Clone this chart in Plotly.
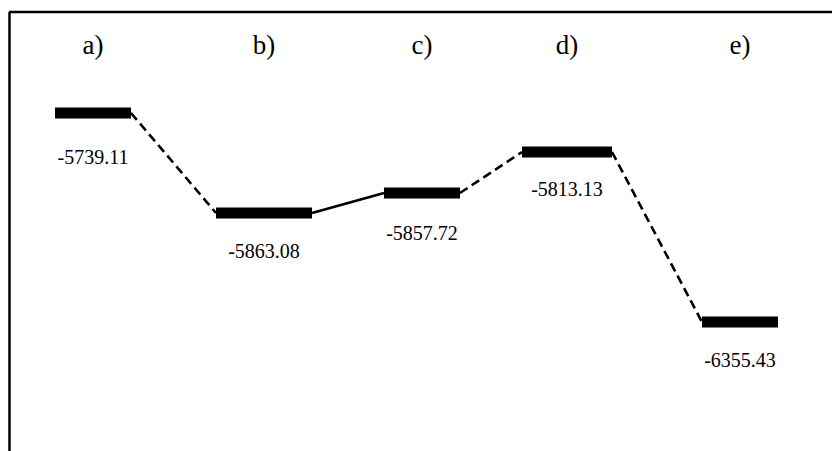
import plotly.graph_objects as go

# ---- data ----
states = ["a)", "b)", "c)", "d)", "e)"]
energies = [-5739.11, -5863.08, -5857.72, -5813.13, -6355.43]
# schematic positions of each level in the diagram (diagram units)
state_pos = [0.93, 2.64, 4.22, 5.67, 7.40]
drawn_level = [3.38, 2.38, 2.58, 2.99, 1.29]
connector_style = ["dash", "solid", "dash", "dash"]  # a-b, b-c, c-d, d-e

# ---- styling ----
half_w = [0.38, 0.48, 0.38, 0.45, 0.38]
bar_thick = 11
label_drop = [0.46, 0.40, 0.42, 0.39, 0.40]
SERIF = "Liberation Serif"

fig = go.Figure()

# connectors
for i in range(len(states) - 1):
    x0 = state_pos[i] + half_w[i]
    x1 = state_pos[i + 1] - half_w[i + 1]
    fig.add_trace(go.Scatter(
        x=[x0, x1], y=[drawn_level[i], drawn_level[i + 1]],
        mode="lines",
        line=dict(color="black", width=2.6,
                  dash="9px,5px" if connector_style[i] == "dash" else "solid"),
        hoverinfo="skip", showlegend=False))

# energy levels
for i in range(len(states)):
    fig.add_trace(go.Scatter(
        x=[state_pos[i] - half_w[i], state_pos[i] + half_w[i]],
        y=[drawn_level[i], drawn_level[i]],
        mode="lines", line=dict(color="black", width=bar_thick),
        hoverinfo="skip", showlegend=False))

# energy labels
fig.add_trace(go.Scatter(
    x=state_pos,
    y=[lv - d for lv, d in zip(drawn_level, label_drop)],
    mode="text",
    text=[f"{e:.2f}" for e in energies],
    textposition="middle center",
    textfont=dict(family=SERIF, size=20, color="black"),
    hoverinfo="skip", showlegend=False))

# state letters
fig.add_trace(go.Scatter(
    x=state_pos, y=[4.04] * len(states),
    mode="text", text=states, textposition="middle center",
    textfont=dict(family=SERIF, size=27, color="black"),
    hoverinfo="skip", showlegend=False))

# frame (top and left edges)
fig.add_shape(type="line", xref="x", yref="y", x0=0.09, x1=8.32, y0=4.39, y1=4.39,
              line=dict(color="black", width=2.5))
fig.add_shape(type="line", xref="x", yref="y", x0=0.095, x1=0.095, y0=4.39, y1=0,
              line=dict(color="black", width=2.5))

fig.update_layout(
    width=832, height=451,
    margin=dict(l=0, r=0, t=0, b=0),
    paper_bgcolor="white", plot_bgcolor="white",
    font=dict(family=SERIF, color="black"),
    xaxis=dict(range=[0, 8.32], visible=False, fixedrange=True),
    yaxis=dict(range=[0, 4.51], visible=False, fixedrange=True),
    showlegend=False,
)

fig.write_html("out.html", config={"displayModeBar": False},
               post_script="document.body.style.margin='0';")
